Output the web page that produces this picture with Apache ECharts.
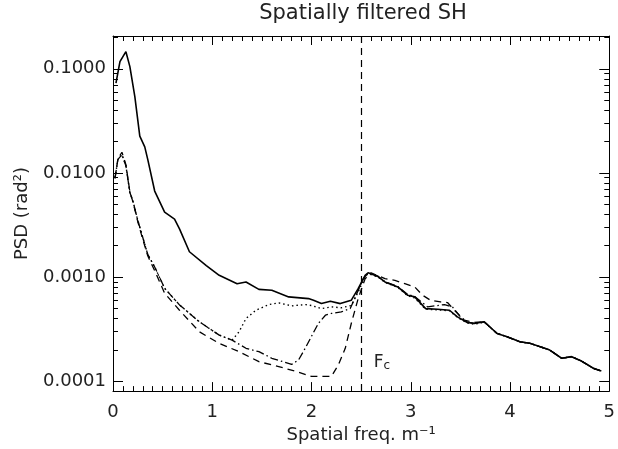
<!DOCTYPE html>
<html>
<head>
<meta charset="utf-8">
<script src="https://cdn.jsdelivr.net/npm/echarts@6/dist/echarts.min.js"></script>
<style>html,body{margin:0;padding:0;background:#fff}#c{width:618px;height:449px}</style>
</head>
<body>
<div id="c"></div>
<script>
// ---- data ----
var tailFreq = [3.87,3.97,4.10,4.20,4.35,4.40,4.52,4.62,4.72,4.84,4.92];
var tailPsd  = [0.000287,0.000267,0.000239,0.000231,0.000207,0.000199,0.000166,0.000172,0.000156,0.000133,0.000125];

var solidFreq = [0.03,0.07,0.13,0.17,0.22,0.27,0.32,0.35,0.42,0.52,0.62,0.67,0.77,0.94,1.07,1.25,1.34,1.47,1.60,1.77,1.97,2.02,2.10,2.19,2.29,2.40,2.47,2.54,2.57,2.67,2.74,2.87,2.97,3.04,3.15,3.27,3.39,3.47,3.57,3.64,3.74];
var solidPsd  = [0.073,0.117,0.146,0.105,0.054,0.0226,0.0178,0.0135,0.0067,0.0042,0.0036,0.0029,0.00175,0.00129,0.00104,0.000864,0.000897,0.000762,0.000746,0.000645,0.000621,0.000598,0.000556,0.000585,0.000556,0.000598,0.000774,0.00104,0.0011,0.00101,0.000897,0.000803,0.000668,0.000645,0.000498,0.000491,0.00048,0.000415,0.000366,0.000358,0.000372];

var dottedFreq = [0.02,0.05,0.09,0.13,0.17,0.20,0.25,0.30,0.35,0.42,0.52,0.67,0.87,1.07,1.20,1.27,1.34,1.44,1.57,1.67,1.80,1.94,2.00,2.10,2.20,2.30,2.40,2.47,2.54,2.57,2.67,2.74,2.87,2.97,3.04,3.15,3.27,3.39,3.47,3.57,3.64,3.74];
var dottedPsd  = [0.0090,0.0135,0.0150,0.0117,0.0065,0.0054,0.0035,0.0024,0.00165,0.00125,0.00078,0.00054,0.000372,0.000277,0.000248,0.000298,0.0004,0.00048,0.000544,0.000565,0.000529,0.000544,0.000533,0.000498,0.000517,0.000507,0.000533,0.00072,0.00101,0.00108,0.00100,0.000890,0.000795,0.00066,0.00063,0.00049,0.000485,0.000475,0.00041,0.000362,0.000352,0.000368];

var dashDotFreq = [0.02,0.05,0.09,0.13,0.17,0.20,0.25,0.30,0.35,0.42,0.52,0.67,0.87,1.07,1.20,1.34,1.47,1.60,1.80,1.87,1.94,2.00,2.07,2.14,2.20,2.30,2.39,2.45,2.52,2.57,2.67,2.74,2.87,2.97,3.04,3.17,3.34,3.42,3.50,3.57,3.64,3.74];
var dashDotPsd  = [0.0090,0.0135,0.0150,0.0117,0.0065,0.0054,0.0035,0.0024,0.00165,0.00125,0.00078,0.00054,0.000372,0.000277,0.000248,0.000207,0.000192,0.000166,0.000145,0.00016,0.00021,0.00027,0.00036,0.00043,0.000447,0.000463,0.000498,0.00067,0.00096,0.00109,0.00102,0.0009,0.00081,0.00068,0.00065,0.000517,0.000544,0.000517,0.000415,0.00037,0.00036,0.000372];

var dashedFreq = [0.02,0.05,0.09,0.13,0.17,0.20,0.25,0.30,0.35,0.42,0.52,0.67,0.87,1.07,1.27,1.47,1.67,1.87,2.00,2.07,2.20,2.27,2.34,2.40,2.47,2.54,2.60,2.74,2.84,2.94,3.04,3.12,3.20,3.30,3.37,3.44,3.54,3.64,3.74];
var dashedPsd  = [0.0088,0.0138,0.0158,0.0120,0.0066,0.0053,0.0034,0.0023,0.0016,0.00115,0.00070,0.00048,0.000298,0.000231,0.000192,0.000154,0.000138,0.000122,0.000111,0.000111,0.000111,0.000143,0.000207,0.000356,0.000621,0.000964,0.0011,0.000964,0.000929,0.000864,0.000803,0.000668,0.000598,0.000577,0.000569,0.00048,0.000385,0.000366,0.000372];

var cutoffFreq = 2.5;
var xTicks = [0,1,2,3,4,5];
var yMajorTicks = [0.0001,0.001,0.01,0.1];
var yMinorTicks = [0.0002,0.0003,0.0004,0.0005,0.0006,0.0007,0.0008,0.0009,
                   0.002,0.003,0.004,0.005,0.006,0.007,0.008,0.009,
                   0.02,0.03,0.04,0.05,0.06,0.07,0.08,0.09,0.2];
var titleText = 'Spatially filtered SH';
var xName = 'Spatial freq. m\u207B\u00B9';
var yName = 'PSD (rad\u00B2)';

// ---- build ----
function zip(xs, ys){ var o=[]; for(var i=0;i<xs.length;i++) o.push([xs[i], ys[i]]); return o; }
function withTail(xs, ys){ return zip(xs.concat(tailFreq), ys.concat(tailPsd)); }

var FONT = 'DejaVu Sans';
var TXT = '#222';
var YMIN = 8.03e-5, YMAX = 0.2066;

function xAx(pos, labels){
  return {
    type:'value', position:pos, min:0, max:5, interval:1,
    axisLine:{show:true, onZero:false, lineStyle:{color:'#000', width:1}},
    axisTick:{show:true, inside:true, length:9, lineStyle:{color:'#000'}},
    minorTick:{show:true, splitNumber:10, length:5, lineStyle:{color:'#000'}},
    splitLine:{show:false}, minorSplitLine:{show:false},
    axisLabel:{show:labels, margin:12, fontSize:18, color:TXT, fontFamily:FONT},
    name: labels ? xName : '', nameLocation:'middle', nameGap:34,
    nameTextStyle:{fontSize:18, color:TXT, fontFamily:FONT}
  };
}
function yAx(pos, ticks, len, labels, line){
  return {
    type:'log', logBase:10, position:pos, min:YMIN, max:YMAX,
    axisLine:{show:line, onZero:false, lineStyle:{color:'#000', width:1}},
    axisTick:{show:true, inside:true, length:len, customValues:ticks, lineStyle:{color:'#000'}},
    splitLine:{show:false}, minorTick:{show:false},
    axisLabel:{show:labels, customValues: labels ? yMajorTicks : undefined, margin:7, fontSize:18, color:TXT, fontFamily:FONT,
      formatter:function(v){ return Number(v).toFixed(4); }},
    name: labels ? yName : '', nameLocation:'middle', nameGap:82, nameRotate:90,
    nameTextStyle:{fontSize:18, color:TXT, fontFamily:FONT}
  };
}

var chart = echarts.init(document.getElementById('c'), null, {renderer:'canvas'});
chart.setOption({
  animation:false,
  backgroundColor:'#fff',
  grid:{left:113, right:5, top:36, bottom:56, containLabel:false},
  graphic:[{type:'text', style:{text:titleText, x:363, y:14, textAlign:'center', textVerticalAlign:'middle', fontSize:21, fill:TXT, fontFamily:FONT}}],
  xAxis:[xAx('bottom', true), xAx('top', false)],
  yAxis:[yAx('left', yMajorTicks, 10, true, true), yAx('left', yMinorTicks, 5, false, false),
         yAx('right', yMajorTicks, 10, false, true), yAx('right', yMinorTicks, 5, false, false)],
  series:[
    {type:'line', name:'solid', data:withTail(solidFreq, solidPsd), showSymbol:false, symbol:'none',
     lineStyle:{color:'#000', width:1.6, type:'solid'},
     markLine:{silent:true, symbol:['none','none'], label:{show:false},
       lineStyle:{color:'#000', width:1.2, type:[7,5]}, data:[{xAxis:cutoffFreq}]},
     markPoint:{silent:true, symbol:'circle', symbolSize:1, itemStyle:{color:'rgba(0,0,0,0)'},
       label:{show:true, position:'inside', formatter:'{a|F}{b|c}', rich:{a:{fontSize:17, color:TXT, fontFamily:FONT}, b:{fontSize:12, color:TXT, fontFamily:FONT, padding:[6,0,0,0]}}},
       data:[{coord:[cutoffFreq + 0.21, 0.000150]}]}},
    {type:'line', name:'dotted', data:withTail(dottedFreq, dottedPsd), showSymbol:false, symbol:'none',
     lineStyle:{color:'#000', width:1.4, type:[1.5,3]}},
    {type:'line', name:'dashdot', data:withTail(dashDotFreq, dashDotPsd), showSymbol:false, symbol:'none',
     lineStyle:{color:'#000', width:1.3, type:[8,3,1.5,3]}},
    {type:'line', name:'dashed', data:withTail(dashedFreq, dashedPsd), showSymbol:false, symbol:'none',
     lineStyle:{color:'#000', width:1.3, type:[7,5]}}
  ]
});
</script>
</body>
</html>
